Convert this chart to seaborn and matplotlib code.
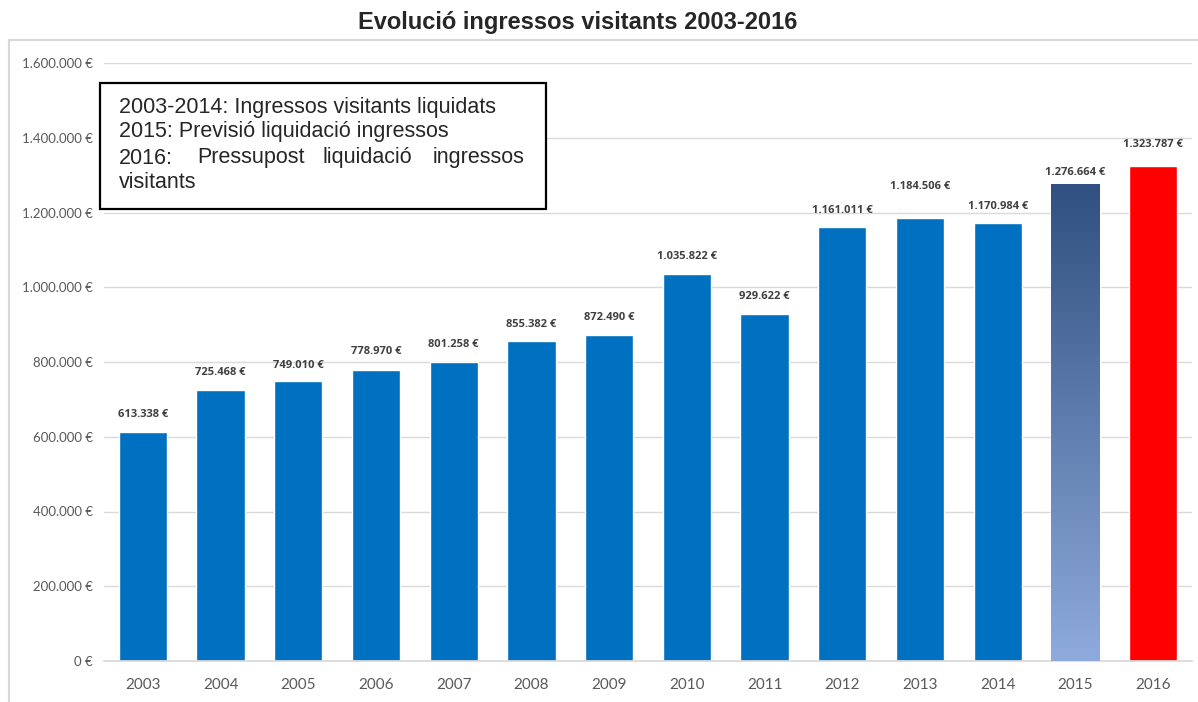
import numpy as np
import pandas as pd
import matplotlib
matplotlib.use("Agg")
import matplotlib.pyplot as plt
from matplotlib.patches import Rectangle
from matplotlib.colors import LinearSegmentedColormap
import seaborn as sns

# Data
years = ["2003", "2004", "2005", "2006", "2007", "2008", "2009",
         "2010", "2011", "2012", "2013", "2014", "2015", "2016"]
ingressos = [613338, 725468, 749010, 778970, 801258, 855382, 872490,
             1035822, 929622, 1161011, 1184506, 1170984, 1276664, 1323787]
y_ticks = [0, 200000, 400000, 600000, 800000, 1000000, 1200000, 1400000, 1600000]
note_lines = ["2003-2014: Ingressos visitants liquidats",
              "2015: Previsió liquidació ingressos"]
note_justified = ["2016:", "Pressupost", "liquidació", "ingressos"]
note_last = "visitants"

# label offsets above bars (pixels), as placed in the original
label_offsets = [17, 17, 16, 18, 17, 17, 17, 17, 17, 17, 32, 17, 11, 22]


def eur(v):
    return f"{int(v):,}".replace(",", ".") + " €"


df = pd.DataFrame({"year": years, "value": ingressos})

sns.set_theme(style="white")
plt.rcParams["font.family"] = ["Liberation Sans", "DejaVu Sans"]

fig = plt.figure(figsize=(11.98, 7.02), dpi=100)
# chart frame
fig.patches.append(Rectangle((9 / 1198, -0.01), 1.0, (702 - 40) / 702 + 0.01,
                             transform=fig.transFigure, fill=False,
                             edgecolor="#D9D9D9", linewidth=1.5, zorder=0))

ax = fig.add_axes([104 / 1198, 1 - 661 / 702, (1192 - 104) / 1198, (661 - 63) / 702])

colors = ["#0070C0"] * 12 + ["#2F5080", "#FF0000"]
sns.barplot(data=df, x="year", y="value", hue="year", palette=colors,
            legend=False, width=0.62, saturation=1, ax=ax, zorder=2)

ax.set_yticks(y_ticks)
ax.set_yticklabels([eur(t) for t in y_ticks], family="Lato", fontsize=9.5, color="#595959")
ax.tick_params(axis="y", length=0, pad=8)
ax.tick_params(axis="x", length=0, pad=12, labelsize=11, labelcolor="#595959")
for lbl in ax.get_xticklabels():
    lbl.set_family("Lato")
ax.set_xlabel("")
ax.set_ylabel("")
ax.grid(axis="y", color="#D9D9D9", linewidth=1, zorder=0)
for s in ["top", "right", "left"]:
    ax.spines[s].set_visible(False)
ax.spines["bottom"].set_color("#D9D9D9")

# gradient fill for 2015 bar
bar = ax.patches[12]
cmap = LinearSegmentedColormap.from_list("g", ["#8FAADC", "#2F5080"])
grad = np.linspace(0, 1, 256).reshape(-1, 1)
x0, w, h = bar.get_x(), bar.get_width(), bar.get_height()
im = ax.imshow(grad, cmap=cmap, origin="lower", aspect="auto",
               extent=[x0, x0 + w, 0, h], zorder=3)
im.set_clip_path(bar)
ax.set_xlim(-0.5, len(years) - 0.5)
ax.set_ylim(0, 1600000)

# data labels
for i, (v, off) in enumerate(zip(ingressos, label_offsets)):
    ax.annotate(eur(v), (i, v), xytext=(0, off), textcoords="offset pixels",
                ha="center", va="center", fontsize=8, fontweight="bold",
                color="#404040", family="Open Sans")

fig.text(578 / 1198, 1 - 23 / 702, "Evolució ingressos visitants 2003-2016",
         ha="center", va="center", fontsize=17, fontweight="bold")

# note box
fig.patches.append(Rectangle((100 / 1198, 1 - 209 / 702), 446 / 1198, 126 / 702,
                             transform=fig.transFigure, facecolor="white",
                             edgecolor="black", linewidth=1.6, zorder=5))
ys = [107, 132, 158, 182]
fs = 15.5
for line, yy in zip(note_lines, ys[:2]):
    fig.text(119 / 1198, 1 - yy / 702, line, ha="left", va="center",
             fontsize=fs, zorder=6)
word_x = [119, 197, 323, 525]
for k, (word, xx) in enumerate(zip(note_justified, word_x)):
    fig.text(xx / 1198, 1 - ys[2] / 702, word, ha="right" if k == 3 else "left",
             va="center", fontsize=fs, zorder=6)
fig.text(119 / 1198, 1 - ys[3] / 702, note_last, ha="left", va="center",
         fontsize=fs, zorder=6)

fig.savefig("out.png", dpi=100, facecolor="white")
